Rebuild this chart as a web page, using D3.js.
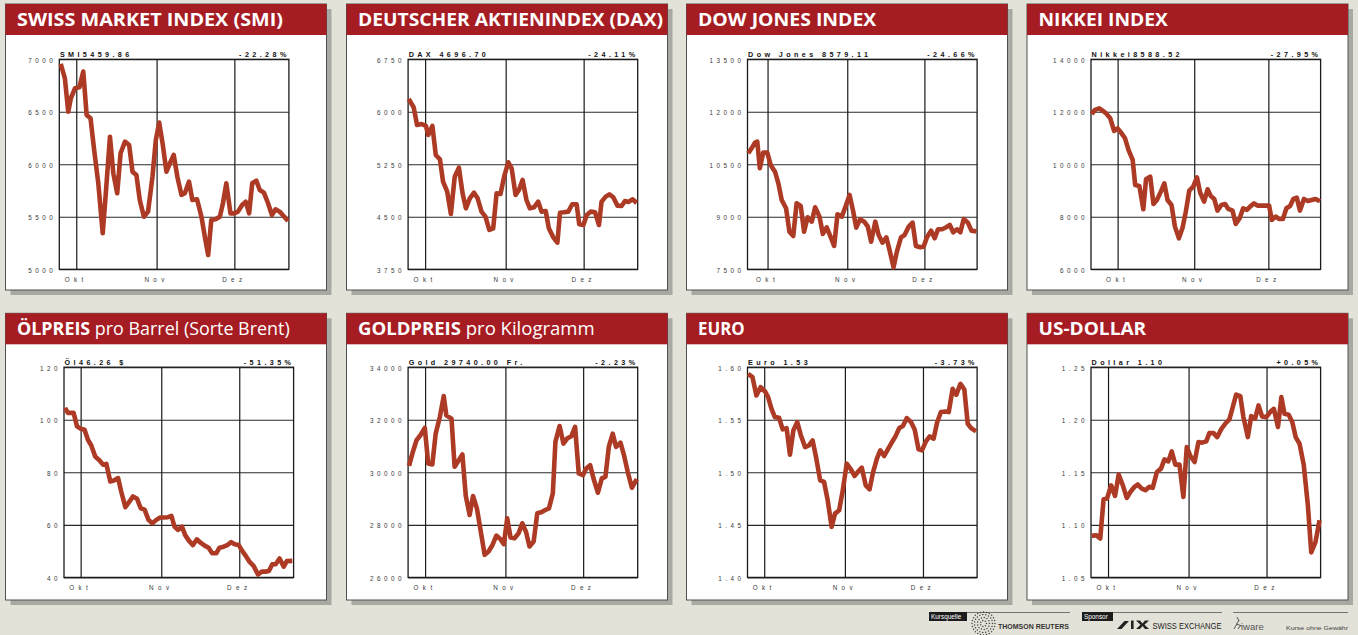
<!DOCTYPE html>
<html><head><meta charset="utf-8">
<script src="https://cdn.jsdelivr.net/npm/d3@7"></script>
<style>html,body{margin:0;padding:0;background:#e3e2d8;}svg{display:block}</style>
</head><body>
<svg id="c" width="1358" height="635"></svg>
<script>
// ---------- DATA (x = days since 1 Oct 2008) ----------
const monthNames = ["Okt","Nov","Dez"];
const monthStart = [0, 31, 61];

const smiDay = [-6.0,-4.4,-3.1,-2.1,-0.5,1.2,2.7,4.0,5.5,6.9,8.5,10.2,11.4,13.0,14.3,15.8,17.1,18.8,20.4,21.7,23.2,24.5,26.1,27.7,29.4,30.7,32.0,33.3,34.8,36.1,37.6,39.0,40.6,41.9,43.5,44.8,46.6,48.3,49.6,50.9,52.1,53.7,55.4,56.6,57.9,59.5,61.0,62.4,64.0,65.4,66.7,67.9,69.5,70.8,72.4,74.0,75.5,76.9,78.5,80.0,81.7];
const smiVal = [6956,6819,6500,6629,6724,6733,6883,6470,6438,6136,5819,5343,5724,6263,5914,5724,6105,6216,6184,5930,5898,5660,5501,5549,5882,6232,6397,6200,5930,6009,6089,5882,5708,5724,5835,5660,5667,5501,5311,5136,5470,5476,5501,5629,5819,5533,5533,5549,5613,5644,5533,5819,5844,5755,5730,5629,5517,5571,5549,5508,5460];

const daxDay = [-6.3,-4.4,-3.1,-1.4,0.3,1.2,2.8,4.1,5.7,6.9,8.5,9.9,11.4,13.0,14.4,15.7,17.2,18.8,20.2,21.7,23.2,24.7,26.2,27.5,29.0,30.4,32.0,33.3,34.8,36.1,37.5,39.0,40.3,41.9,43.5,44.8,46.4,47.6,49.3,50.9,51.9,53.4,55.1,56.6,58.3,59.3,60.9,62.2,63.7,65.4,66.9,67.9,69.5,70.9,72.4,74.0,75.6,76.9,78.2,79.9,81.4];
const daxVal = [6183,6064,5812,5826,5798,5669,5798,5383,5321,5002,4860,4540,5074,5202,4836,4621,4764,4845,4764,4574,4502,4312,4336,4836,4826,5074,5279,5193,4812,4883,5026,4740,4621,4636,4717,4574,4583,4336,4207,4131,4559,4564,4574,4679,4679,4393,4383,4526,4574,4564,4383,4717,4788,4821,4779,4660,4655,4726,4712,4750,4697];

const dowDay = [-7.5,-6.2,-4.9,-4.0,-3.0,-1.7,-0.1,1.2,2.9,4.2,5.5,7.2,8.5,10.0,11.3,12.9,14.2,15.6,17.2,18.5,20.2,21.5,23.0,24.6,25.9,27.2,28.9,30.4,31.9,33.2,34.5,36.0,37.6,39.0,40.3,41.9,43.2,44.7,46.2,47.5,49.0,50.3,51.9,53.3,54.9,56.4,57.7,59.4,60.7,62.0,63.6,65.0,66.3,67.9,69.5,70.9,72.2,73.7,75.0,76.3,77.9,79.3,81.3];
const dowVal = [10814,10957,11119,11148,10386,10833,10833,10481,10290,9957,9481,9243,8576,8452,9386,9310,8576,8986,8862,9271,9005,8510,8700,8414,8167,9071,9005,9310,9624,9195,8690,8929,8862,8719,8290,8862,8481,8262,8414,8033,7557,8005,8414,8481,8719,8833,8167,8129,8148,8414,8605,8386,8643,8643,8700,8767,8557,8643,8557,8938,8833,8605,8579];

const nikDay = [-10.5,-9.2,-7.4,-6.1,-4.7,-3.0,-1.4,0,1.4,3.0,4.4,6.1,7.1,8.8,10.4,11.5,13.2,14.5,15.9,17.5,18.9,20.2,21.8,23.2,24.8,26.3,27.6,29.0,30.6,32.1,33.4,35.0,36.4,37.7,39.1,40.4,42.0,43.5,44.8,46.5,47.8,49.4,50.8,52.3,53.6,55.2,56.6,58.3,59.9,61.3,62.4,64.0,65.3,66.9,68.3,69.8,71.1,72.5,73.8,75.4,77.0,78.5,80.1,81.9];
const nikVal = [11918,12070,12133,12045,11943,11753,11270,11371,11206,10991,10546,10165,9213,9175,8286,9429,9530,8489,8641,8959,9276,8641,8451,7626,7181,7588,8197,8997,9149,9505,8921,8578,9048,8794,8680,8235,8451,8489,8299,8235,7727,7943,8324,8261,8388,8514,8426,8426,8426,8426,7880,8007,7918,7918,8324,8413,8680,8730,8235,8680,8603,8641,8680,8589];

const oilDay = [-6.0,-4.9,-3.6,-2.7,-1.4,0,1.5,2.8,4.1,5.6,7.3,8.6,9.9,11.4,12.8,14.4,15.6,17.2,18.8,20.1,21.7,23.1,24.6,26.1,27.6,29.1,30.6,32.0,33.6,34.9,36.1,37.4,39.0,40.2,41.7,43.2,44.7,46.1,47.7,49.2,50.6,52.2,53.4,55.0,56.4,57.9,59.3,60.8,62.2,63.7,65.0,66.5,68.2,69.7,71.1,72.4,73.7,75.0,76.5,78.1,79.3,81.4];
const oilVal = [104.5,102.6,102.6,102.6,97.5,96.6,96.2,92.4,90.2,86.0,84.5,82.9,83.2,76.5,76.9,77.8,72.7,66.7,68.9,70.8,69.9,66.3,65.8,61.9,60.6,61.9,62.8,62.8,62.9,63.4,59.3,58.1,59.3,56.1,53.9,52.3,54.5,53.2,52.1,51.3,49.2,49.2,51.3,51.7,52.3,53.4,52.6,52.3,50.0,47.9,45.9,44.4,41.1,42.2,42.2,42.4,45.0,45.0,47.2,44.1,46.2,46.3];

const goldDay = [-6.2,-4.9,-3.3,-1.8,-0.1,1.2,2.8,4.1,5.7,7.2,8.2,10.2,11.4,13.0,14.4,15.7,17.2,18.5,20.0,21.5,23.0,24.5,25.9,27.5,29.0,30.4,31.7,33.0,34.5,36.1,37.5,39.0,40.3,41.9,43.3,44.8,46.4,47.8,49.3,50.3,51.9,53.4,54.8,56.4,57.9,59.3,60.9,62.2,63.7,65.0,66.7,68.2,69.6,70.9,72.4,73.7,75.4,76.7,78.2,79.8,81.7];
const goldVal = [30246,30714,31220,31409,31687,30335,30297,31472,32104,32900,32167,32041,30209,30461,30676,29109,28376,29096,28629,27744,26860,26986,27213,27592,27466,27264,28250,27516,27491,27681,28060,27719,27175,27365,28439,28477,28566,28629,29198,31156,31763,31093,31283,31371,31725,29956,29893,30145,30272,29766,29223,29766,29829,30967,31472,30967,31131,30676,30019,29412,29740];

const euroDay = [-6.2,-4.5,-3.0,-1.4,0.3,1.5,2.8,4.1,5.7,7.1,8.6,9.9,11.2,12.7,14.1,15.7,17.2,18.6,19.9,21.5,23.0,24.4,25.9,27.2,28.8,30.2,31.7,33.3,34.7,36.2,37.5,39.0,40.5,41.7,43.3,44.6,46.1,47.5,49.1,50.3,51.9,53.3,54.8,56.4,57.8,59.3,60.6,62.2,63.6,65.1,66.4,67.9,69.6,70.9,72.4,73.8,75.4,76.9,78.2,79.5,81.4];
const euroVal = [1.5937,1.5905,1.5731,1.5810,1.5769,1.5715,1.5604,1.5525,1.5519,1.5408,1.5420,1.5168,1.5399,1.5478,1.5351,1.5240,1.5256,1.5304,1.5146,1.4924,1.4908,1.4734,1.4481,1.4607,1.4639,1.4829,1.5082,1.5028,1.4965,1.5009,1.5044,1.4876,1.4838,1.4987,1.5130,1.5209,1.5155,1.5218,1.5288,1.5335,1.5421,1.5440,1.5516,1.5478,1.5408,1.5218,1.5209,1.5297,1.5342,1.5320,1.5471,1.5573,1.5579,1.5573,1.5794,1.5737,1.5842,1.5788,1.5462,1.5421,1.5389];

const usdDay = [-6.3,-4.6,-3.0,-1.7,-0.4,1.2,2.7,4.1,5.7,7.2,8.6,10.2,11.4,13.0,14.4,15.9,17.2,18.8,20.4,21.7,23.2,24.5,25.9,27.5,29.0,30.3,31.7,33.3,34.8,36.2,37.8,39.0,40.6,42.0,43.5,45.1,46.7,48.0,49.3,50.9,52.1,53.8,55.1,56.6,57.9,59.3,60.9,62.4,63.8,65.4,66.7,67.9,69.5,70.9,72.2,73.7,75.3,76.9,78.2,79.8,81.4];
const usdVal = [1.0895,1.0902,1.0870,1.1244,1.1250,1.1376,1.1275,1.1478,1.1376,1.1256,1.1313,1.1362,1.1384,1.1345,1.1329,1.1362,1.1352,1.1503,1.1535,1.1623,1.1604,1.1699,1.1573,1.1573,1.1266,1.1740,1.1655,1.1598,1.1788,1.1782,1.1794,1.1873,1.1873,1.1835,1.1908,1.1962,1.2003,1.2120,1.2240,1.2224,1.2025,1.1835,1.2035,1.2010,1.2136,1.2031,1.2025,1.2073,1.2104,1.1930,1.2215,1.2057,1.2048,1.1978,1.1835,1.1772,1.1573,1.1187,1.0738,1.0833,1.1044];

// date windows shown (days since 1 Oct)
const smiRange = [-6.55, 82.05], daxRange = [-6.55, 81.8], dowRange = [-7.8, 81.5], nikRange = [-10.77, 82.14];
const oilRange = [-6.4, 81.9], goldRange = [-6.55, 82.05], euroRange = [-6.42, 81.8], usdRange = [-6.55, 81.8];

// y ticks
const smiTicks = [5000,5500,6000,6500,7000];
const daxTicks = [3750,4500,5250,6000,6750];
const dowTicks = [7500,9000,10500,12000,13500];
const nikTicks = [6000,8000,10000,12000,14000];
const oilTicks = [40,60,80,100,120];
const goldTicks = [26000,28000,30000,32000,34000];
const euroTicks = [1.40,1.45,1.50,1.55,1.60];
const usdTicks = [1.05,1.10,1.15,1.20,1.25];

const titlesBold = ["SWISS MARKET INDEX (SMI)","DEUTSCHER AKTIENINDEX (DAX)","DOW JONES INDEX","NIKKEI INDEX","ÖLPREIS","GOLDPREIS","EURO","US-DOLLAR"];
const titlesRest = ["","","",""," pro Barrel (Sorte Brent)"," pro Kilogramm","",""];
const quoteLabels = ["SMI5459.86","DAX 4696.70","Dow Jones 8579.11","Nikkei8588.52","Öl46.26 $","Gold 29740.00 Fr.","Euro 1.53","Dollar 1.10"];
const changeLabels = ["-22.28%","-24.11%","-24.66%","-27.95%","-51.35%","-2.23%","-3.73%","+0.05%"];

const series = [
  {day:smiDay, val:smiVal, range:smiRange, ticks:smiTicks, fmt:"d"},
  {day:daxDay, val:daxVal, range:daxRange, ticks:daxTicks, fmt:"d"},
  {day:dowDay, val:dowVal, range:dowRange, ticks:dowTicks, fmt:"d"},
  {day:nikDay, val:nikVal, range:nikRange, ticks:nikTicks, fmt:"d"},
  {day:oilDay, val:oilVal, range:oilRange, ticks:oilTicks, fmt:"d"},
  {day:goldDay, val:goldVal, range:goldRange, ticks:goldTicks, fmt:"d"},
  {day:euroDay, val:euroVal, range:euroRange, ticks:euroTicks, fmt:".2f"},
  {day:usdDay, val:usdVal, range:usdRange, ticks:usdTicks, fmt:".2f"}
];

// ---------- LAYOUT ----------
const L = {
  colX:[5.5,346.5,686.5,1027], rowY:[4,313.3], panelW:321, panelH:[286,286.7],
  headerH:31, plotTop:[55.3,53.9], plotW:229.6, plotH:[210,210.2],
  plotLeft:[53.8,61.6,61,64,58.5,61.6,61,64],
  titleW:[266,305,178.3,129.3,272.7,236.7,46.7,107.7]
};
const RED = "#a61c23", LINE = "#ad3a24";
const SMALL = "'Liberation Sans', Arial, sans-serif";

const svg = d3.select("#c");
svg.append("rect").attr("width",1358).attr("height",635).attr("fill","#e3e2d8");

series.forEach((s, i) => {
  const col = i % 4, row = Math.floor(i / 4);
  const px0 = L.colX[col], py0 = L.rowY[row], ph = L.panelH[row];
  const P = svg.append("g").attr("transform", `translate(${px0},${py0})`);
  P.append("rect").attr("x",5).attr("y",5).attr("width",L.panelW).attr("height",ph).attr("fill","#a9a9a3");
  P.append("rect").attr("x",0).attr("y",0).attr("width",L.panelW).attr("height",ph)
    .attr("fill","#fff").attr("stroke","#505050").attr("stroke-width",1);
  P.append("rect").attr("x",0).attr("y",0).attr("width",L.panelW).attr("height",L.headerH).attr("fill",RED);
  const t = P.append("text").attr("x",11.5).attr("y",22).attr("fill","#fff")
    .attr("font-family","'Open Sans', sans-serif").attr("font-size",18.5)
    .attr("textLength",L.titleW[i]).attr("lengthAdjust","spacingAndGlyphs");
  t.append("tspan").attr("font-weight",700).text(titlesBold[i]);
  if (titlesRest[i]) t.append("tspan").attr("font-weight",400).text(titlesRest[i]);

  const pw = L.plotW, pH = L.plotH[row];
  const g = P.append("g").attr("transform", `translate(${L.plotLeft[i]},${L.plotTop[row]})`);
  const x = d3.scaleLinear().domain(s.range).range([0, pw]);
  const y = d3.scaleLinear().domain(d3.extent(s.ticks)).range([pH, 0]);

  g.append("g").call(d3.axisLeft(y).tickValues(s.ticks).tickSize(-pw).tickFormat(""))
    .call(a => a.select(".domain").remove())
    .selectAll("line").attr("stroke","#2a2a2a").attr("stroke-width",1.1);
  g.append("g").attr("transform",`translate(0,${pH})`)
    .call(d3.axisBottom(x).tickValues(monthStart).tickSize(-pH).tickFormat(""))
    .call(a => a.select(".domain").remove())
    .selectAll("line").attr("stroke","#1a1a1a").attr("stroke-width",1.2);
  g.append("rect").attr("width",pw).attr("height",pH).attr("fill","none")
    .attr("stroke","#1a1a1a").attr("stroke-width",1.3);

  const fmt = d3.format(s.fmt);
  g.append("g").selectAll("text").data(s.ticks).join("text")
    .attr("x",-3.1).attr("y",d => y(d) + 3.6)
    .attr("text-anchor","end").attr("font-family",SMALL).attr("font-size",6.3)
    .attr("letter-spacing",3.5).attr("fill","#3a3a3a").text(d => fmt(d));
  g.append("g").selectAll("text").data(monthStart).join("text")
    .attr("x",d => x(d)).attr("y",pH + 12.3)
    .attr("text-anchor","middle").attr("font-family",SMALL).attr("font-size",6.3)
    .attr("letter-spacing",4.4).attr("fill","#3a3a3a").text((d,k) => monthNames[k]);
  g.append("text").attr("x",0.6).attr("y",-2.6).attr("font-family",SMALL).attr("font-weight",700)
    .attr("font-size",7.2).attr("letter-spacing",3.4).attr("fill","#111").text(quoteLabels[i]);
  g.append("text").attr("x",pw + 0.8).attr("y",-2.6).attr("text-anchor","end").attr("font-family",SMALL)
    .attr("font-weight",700).attr("font-size",7.2).attr("letter-spacing",3.4).attr("fill","#111").text(changeLabels[i]);

  const pts = d3.zip(s.day, s.val);
  g.append("path").datum(pts)
    .attr("d", d3.line().x(d => x(d[0])).y(d => y(d[1])))
    .attr("fill","none").attr("stroke",LINE).attr("stroke-width",4.6)
    .attr("stroke-linejoin","round").attr("stroke-linecap","butt");
});

// ---------- FOOTER ----------
const F = svg.append("g");
function hline(x1,x2){ F.append("line").attr("x1",x1).attr("x2",x2).attr("y1",612.5).attr("y2",612.5).attr("stroke","#555").attr("stroke-width",0.8); }
function tag(x,w,label){
  F.append("rect").attr("x",x).attr("y",612).attr("width",w).attr("height",9).attr("fill","#1c1c1c");
  F.append("text").attr("x",x+2).attr("y",619.2).attr("font-family",SMALL).attr("font-size",6.4).attr("fill","#fff").text(label);
}
hline(929,1070); tag(929,38,"Kursquelle");
[[3,7],[6,13],[9,19],[11.5,24]].forEach(([r,n]) => {
  d3.range(n).forEach(k => {
    const a = k / n * Math.PI * 2;
    F.append("circle").attr("cx",983.5 + r*Math.cos(a)).attr("cy",623.5 + r*Math.sin(a))
      .attr("r",0.75).attr("fill","#444");
  });
});
F.append("text").attr("x",998).attr("y",628.5).attr("font-family",SMALL).attr("font-weight",700)
  .attr("font-size",7).attr("fill","#333").attr("textLength",71).attr("lengthAdjust","spacingAndGlyphs").text("THOMSON REUTERS");

hline(1082,1222); tag(1082,31,"Sponsor");
F.append("path").attr("d","M1117,629 L1121.5,629 L1129,621 L1124.5,621 Z").attr("fill","#222");
F.append("rect").attr("x",1131).attr("y",620.5).attr("width",2.6).attr("height",8.5).attr("fill","#222");
F.append("path").attr("d","M1136,620.5 L1140,620.5 L1142.5,623.5 L1145,620.5 L1149,620.5 L1144.5,624.8 L1149,629 L1145,629 L1142.5,626 L1140,629 L1136,629 L1140.5,624.8 Z").attr("fill","#222");
F.append("text").attr("x",1152.5).attr("y",628.5).attr("font-family",SMALL).attr("font-size",9)
  .attr("fill","#222").attr("textLength",69).attr("lengthAdjust","spacingAndGlyphs").text("SWISS EXCHANGE");

hline(1233,1348);
F.append("path").attr("d","M1234,629 L1239,620 M1236,624 L1242,626 M1237,617 L1239,621 M1238,629 L1241,625")
  .attr("stroke","#555").attr("stroke-width",1).attr("fill","none");
F.append("text").attr("x",1241).attr("y",630).attr("font-family",SMALL).attr("font-size",9.5)
  .attr("fill","#555").text("iware");
F.append("text").attr("x",1286).attr("y",630).attr("font-family",SMALL).attr("font-size",5.6)
  .attr("fill","#444").attr("textLength",62).attr("lengthAdjust","spacingAndGlyphs").text("Kurse ohne Gewähr");
</script>
</body></html>
